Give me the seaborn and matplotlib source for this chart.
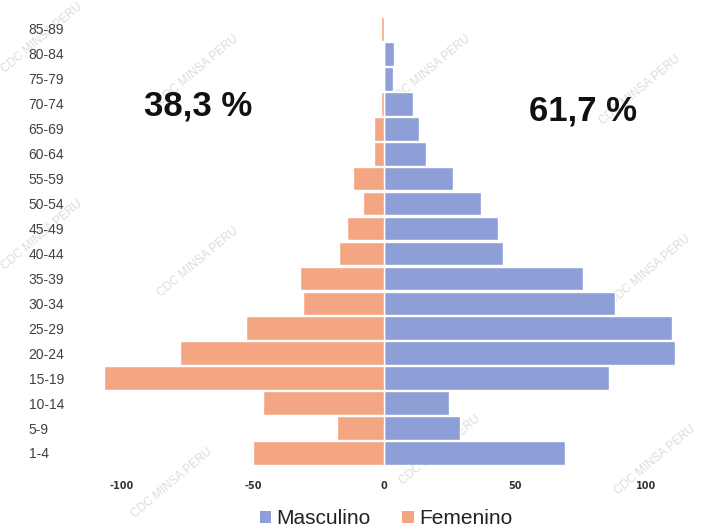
import matplotlib
matplotlib.use("Agg")
import matplotlib.pyplot as plt
import seaborn as sns
import pandas as pd
from matplotlib.patches import Patch

# ---- data ----
age_groups = ["85-89", "80-84", "75-79", "70-74", "65-69", "60-64", "55-59",
              "50-54", "45-49", "40-44", "35-39", "30-34", "25-29", "20-24",
              "15-19", "10-14", "5-9", "1-4"]
masculino = [0, 4, 3.5, 11, 13.5, 16, 26.5, 37, 43.5, 45.5, 76, 88, 110, 111, 86, 25, 29, 69]
femenino = [-1, 0, 0, -1, -4, -4, -12, -8, -14, -17, -32, -31, -52.5, -78, -107, -46, -18, -50]
pct_fem = "38,3 %"
pct_masc = "61,7 %"
xticks = [-100, -50, 0, 50, 100]
xtick_labels = ["-100", "-50", "0", "50", "100"]
series_names = ["Masculino", "Femenino"]

c_masc = "#8e9fd8"
c_fem = "#f4a683"

df = pd.DataFrame({
    "edad": age_groups * 2,
    "valor": masculino + femenino,
    "sexo": [series_names[0]] * len(age_groups) + [series_names[1]] * len(age_groups),
})

sns.set_theme(style="white")
plt.rcParams["font.family"] = ["Liberation Sans", "DejaVu Sans"]

W, H = 712, 529
fig = plt.figure(figsize=(W / 100, H / 100), dpi=100)
n = len(age_groups)
# pixel geometry
x0_px = 384.0
ppu = 2.62
xmin, xmax = -115, 115
left_px = x0_px + ppu * xmin
right_px = x0_px + ppu * xmax
top_c, bot_c = 29.0, 453.0
step = (bot_c - top_c) / (n - 1)
top_px = top_c - step / 2
bot_px = bot_c + step / 2
ax = fig.add_axes([left_px / W, 1 - bot_px / H, (right_px - left_px) / W, (bot_px - top_px) / H])
ax.patch.set_alpha(0)

sns.barplot(data=df, y="edad", x="valor", hue="sexo", order=age_groups,
            hue_order=series_names, palette=[c_masc, c_fem], dodge=False,
            width=0.95, orient="h", ax=ax, legend=False, saturation=1)

ax.set_xlim(xmin, xmax)
ax.set_ylim(n - 0.5, -0.5)
ax.set_xlabel("")
ax.set_ylabel("")
for s in ax.spines.values():
    s.set_visible(False)
ax.set_xticks(xticks)
ax.set_xticklabels(xtick_labels, fontsize=7, fontweight="bold", color="#333333",
                   family=["DejaVu Sans"])
ax.tick_params(axis="x", length=0, pad=11)
ax.tick_params(axis="y", length=0, pad=39)
for lab in ax.get_yticklabels():
    lab.set_horizontalalignment("left")
    lab.set_fontsize(10)
    lab.set_color("#404040")
ax.grid(False)

# percentages
fig.text(198 / W, 1 - 106 / H, pct_fem, ha="center", va="center", fontsize=25,
         fontweight="bold", color="#111111")
fig.text(583 / W, 1 - 111 / H, pct_masc, ha="center", va="center", fontsize=25,
         fontweight="bold", color="#111111")

# watermarks
wm = "CDC MINSA PERU"
wm_pos = [(198, 70), (198, 262), (172, 483), (430, 70), (640, 90),
          (440, 450), (650, 270), (655, 460), (42, 38), (42, 235)]
for (px, py) in wm_pos:
    fig.text(px / W, 1 - py / H, wm, ha="center", va="center", fontsize=8.5,
             rotation=40, color="#dcdcdc", zorder=-1)

# legend
handles = [Patch(facecolor=c_masc, edgecolor="none"), Patch(facecolor=c_fem, edgecolor="none")]
fig.legend(handles, series_names, loc="center", bbox_to_anchor=(386 / W, 1 - 519 / H),
           ncol=2, frameon=False, fontsize=15, handlelength=0.55, handleheight=0.55,
           handletextpad=0.25, columnspacing=1.5, labelcolor="#222222")

fig.savefig("out.png", dpi=100)
